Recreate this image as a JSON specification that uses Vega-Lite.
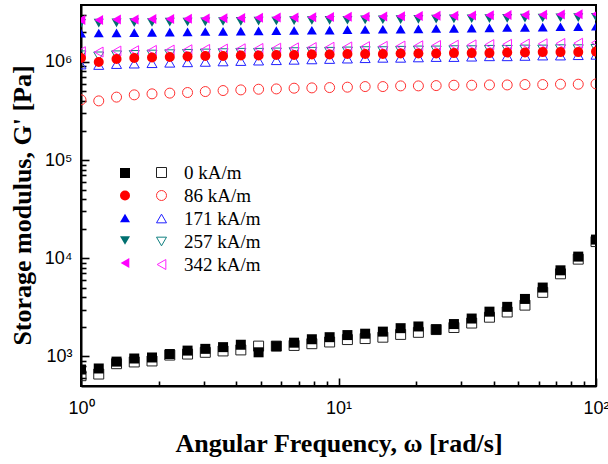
{
  "$schema": "https://vega.github.io/schema/vega-lite/v6.json",
  "width": 515,
  "height": 381,
  "autosize": {"type": "none"},
  "padding": {"left": 81, "top": 5, "right": 12, "bottom": 78},
  "background": "white",
  "config": {
    "view": {"stroke": "black", "strokeWidth": 2},
    "axis": {"grid": false}
  },
  "datasets": {
    "filled": [
      {"w": 1, "0 kA/m": 736, "86 kA/m": 1096000, "171 kA/m": 1960000, "257 kA/m": 2470000, "342 kA/m": 2670000},
      {"w": 1.172, "0 kA/m": 754, "86 kA/m": 1000000, "171 kA/m": 1970000, "257 kA/m": 2480000, "342 kA/m": 2680000},
      {"w": 1.374, "0 kA/m": 886, "86 kA/m": 1072000, "171 kA/m": 1980000, "257 kA/m": 2500000, "342 kA/m": 2700000},
      {"w": 1.61, "0 kA/m": 953, "86 kA/m": 1096000, "171 kA/m": 1990000, "257 kA/m": 2510000, "342 kA/m": 2710000},
      {"w": 1.887, "0 kA/m": 976, "86 kA/m": 1109000, "171 kA/m": 2000000, "257 kA/m": 2520000, "342 kA/m": 2730000},
      {"w": 2.212, "0 kA/m": 1058, "86 kA/m": 1122000, "171 kA/m": 2010000, "257 kA/m": 2540000, "342 kA/m": 2740000},
      {"w": 2.593, "0 kA/m": 1147, "86 kA/m": 1135000, "171 kA/m": 2020000, "257 kA/m": 2550000, "342 kA/m": 2760000},
      {"w": 3.039, "0 kA/m": 1195, "86 kA/m": 1148000, "171 kA/m": 2040000, "257 kA/m": 2560000, "342 kA/m": 2770000},
      {"w": 3.562, "0 kA/m": 1244, "86 kA/m": 1148000, "171 kA/m": 2050000, "257 kA/m": 2580000, "342 kA/m": 2790000},
      {"w": 4.175, "0 kA/m": 1316, "86 kA/m": 1161000, "171 kA/m": 2060000, "257 kA/m": 2590000, "342 kA/m": 2800000},
      {"w": 4.894, "0 kA/m": 1102, "86 kA/m": 1161000, "171 kA/m": 2070000, "257 kA/m": 2600000, "342 kA/m": 2810000},
      {"w": 5.736, "0 kA/m": 1274, "86 kA/m": 1175000, "171 kA/m": 2080000, "257 kA/m": 2610000, "342 kA/m": 2830000},
      {"w": 6.723, "0 kA/m": 1381, "86 kA/m": 1175000, "171 kA/m": 2090000, "257 kA/m": 2630000, "342 kA/m": 2840000},
      {"w": 7.88, "0 kA/m": 1497, "86 kA/m": 1189000, "171 kA/m": 2100000, "257 kA/m": 2640000, "342 kA/m": 2850000},
      {"w": 9.237, "0 kA/m": 1571, "86 kA/m": 1189000, "171 kA/m": 2110000, "257 kA/m": 2650000, "342 kA/m": 2870000},
      {"w": 10.83, "0 kA/m": 1651, "86 kA/m": 1202000, "171 kA/m": 2130000, "257 kA/m": 2660000, "342 kA/m": 2880000},
      {"w": 12.69, "0 kA/m": 1705, "86 kA/m": 1202000, "171 kA/m": 2140000, "257 kA/m": 2680000, "342 kA/m": 2890000},
      {"w": 14.87, "0 kA/m": 1790, "86 kA/m": 1202000, "171 kA/m": 2150000, "257 kA/m": 2690000, "342 kA/m": 2910000},
      {"w": 17.43, "0 kA/m": 1941, "86 kA/m": 1216000, "171 kA/m": 2160000, "257 kA/m": 2700000, "342 kA/m": 2920000},
      {"w": 20.43, "0 kA/m": 2020, "86 kA/m": 1216000, "171 kA/m": 2170000, "257 kA/m": 2710000, "342 kA/m": 2930000},
      {"w": 23.95, "0 kA/m": 1879, "86 kA/m": 1216000, "171 kA/m": 2190000, "257 kA/m": 2730000, "342 kA/m": 2950000},
      {"w": 28.07, "0 kA/m": 2138, "86 kA/m": 1230000, "171 kA/m": 2200000, "257 kA/m": 2740000, "342 kA/m": 2960000},
      {"w": 32.9, "0 kA/m": 2433, "86 kA/m": 1230000, "171 kA/m": 2210000, "257 kA/m": 2750000, "342 kA/m": 2970000},
      {"w": 38.57, "0 kA/m": 2859, "86 kA/m": 1230000, "171 kA/m": 2220000, "257 kA/m": 2760000, "342 kA/m": 2990000},
      {"w": 45.2, "0 kA/m": 3201, "86 kA/m": 1245000, "171 kA/m": 2240000, "257 kA/m": 2780000, "342 kA/m": 3000000},
      {"w": 52.98, "0 kA/m": 3853, "86 kA/m": 1245000, "171 kA/m": 2250000, "257 kA/m": 2790000, "342 kA/m": 3010000},
      {"w": 62.1, "0 kA/m": 5032, "86 kA/m": 1259000, "171 kA/m": 2260000, "257 kA/m": 2800000, "342 kA/m": 3030000},
      {"w": 72.79, "0 kA/m": 7538, "86 kA/m": 1259000, "171 kA/m": 2280000, "257 kA/m": 2820000, "342 kA/m": 3040000},
      {"w": 85.32, "0 kA/m": 10400, "86 kA/m": 1259000, "171 kA/m": 2290000, "257 kA/m": 2830000, "342 kA/m": 3060000},
      {"w": 100, "0 kA/m": 15500, "86 kA/m": 1274000, "171 kA/m": 2310000, "257 kA/m": 2850000, "342 kA/m": 3080000}
    ],
    "open": [
      {"w": 1, "0 kA/m": 637, "86 kA/m": 411000, "171 kA/m": 940000, "257 kA/m": 1170000, "342 kA/m": 1270000},
      {"w": 1.172, "0 kA/m": 662, "86 kA/m": 401000, "171 kA/m": 930000, "257 kA/m": 1140000, "342 kA/m": 1260000},
      {"w": 1.374, "0 kA/m": 844, "86 kA/m": 438000, "171 kA/m": 950000, "257 kA/m": 1170000, "342 kA/m": 1290000},
      {"w": 1.61, "0 kA/m": 879, "86 kA/m": 462000, "171 kA/m": 960000, "257 kA/m": 1180000, "342 kA/m": 1300000},
      {"w": 1.887, "0 kA/m": 900, "86 kA/m": 473000, "171 kA/m": 970000, "257 kA/m": 1190000, "342 kA/m": 1310000},
      {"w": 2.212, "0 kA/m": 1033, "86 kA/m": 481000, "171 kA/m": 980000, "257 kA/m": 1200000, "342 kA/m": 1320000},
      {"w": 2.593, "0 kA/m": 1058, "86 kA/m": 488000, "171 kA/m": 990000, "257 kA/m": 1210000, "342 kA/m": 1330000},
      {"w": 3.039, "0 kA/m": 1102, "86 kA/m": 499000, "171 kA/m": 1000000, "257 kA/m": 1220000, "342 kA/m": 1340000},
      {"w": 3.562, "0 kA/m": 1138, "86 kA/m": 511000, "171 kA/m": 1010000, "257 kA/m": 1230000, "342 kA/m": 1350000},
      {"w": 4.175, "0 kA/m": 1166, "86 kA/m": 519000, "171 kA/m": 1020000, "257 kA/m": 1240000, "342 kA/m": 1360000},
      {"w": 4.894, "0 kA/m": 1274, "86 kA/m": 527000, "171 kA/m": 1030000, "257 kA/m": 1240000, "342 kA/m": 1370000},
      {"w": 5.736, "0 kA/m": 1274, "86 kA/m": 531000, "171 kA/m": 1040000, "257 kA/m": 1250000, "342 kA/m": 1380000},
      {"w": 6.723, "0 kA/m": 1295, "86 kA/m": 540000, "171 kA/m": 1050000, "257 kA/m": 1260000, "342 kA/m": 1390000},
      {"w": 7.88, "0 kA/m": 1349, "86 kA/m": 544000, "171 kA/m": 1060000, "257 kA/m": 1270000, "342 kA/m": 1400000},
      {"w": 9.237, "0 kA/m": 1404, "86 kA/m": 548000, "171 kA/m": 1070000, "257 kA/m": 1270000, "342 kA/m": 1410000},
      {"w": 10.83, "0 kA/m": 1486, "86 kA/m": 553000, "171 kA/m": 1080000, "257 kA/m": 1280000, "342 kA/m": 1420000},
      {"w": 12.69, "0 kA/m": 1522, "86 kA/m": 561000, "171 kA/m": 1090000, "257 kA/m": 1290000, "342 kA/m": 1430000},
      {"w": 14.87, "0 kA/m": 1571, "86 kA/m": 561000, "171 kA/m": 1100000, "257 kA/m": 1290000, "342 kA/m": 1440000},
      {"w": 17.43, "0 kA/m": 1677, "86 kA/m": 570000, "171 kA/m": 1100000, "257 kA/m": 1300000, "342 kA/m": 1450000},
      {"w": 20.43, "0 kA/m": 1761, "86 kA/m": 570000, "171 kA/m": 1110000, "257 kA/m": 1310000, "342 kA/m": 1460000},
      {"w": 23.95, "0 kA/m": 1879, "86 kA/m": 574000, "171 kA/m": 1120000, "257 kA/m": 1310000, "342 kA/m": 1470000},
      {"w": 28.07, "0 kA/m": 1972, "86 kA/m": 579000, "171 kA/m": 1120000, "257 kA/m": 1320000, "342 kA/m": 1480000},
      {"w": 32.9, "0 kA/m": 2189, "86 kA/m": 579000, "171 kA/m": 1130000, "257 kA/m": 1320000, "342 kA/m": 1490000},
      {"w": 38.57, "0 kA/m": 2512, "86 kA/m": 583000, "171 kA/m": 1140000, "257 kA/m": 1330000, "342 kA/m": 1500000},
      {"w": 45.2, "0 kA/m": 2837, "86 kA/m": 583000, "171 kA/m": 1140000, "257 kA/m": 1330000, "342 kA/m": 1510000},
      {"w": 52.98, "0 kA/m": 3333, "86 kA/m": 588000, "171 kA/m": 1150000, "257 kA/m": 1340000, "342 kA/m": 1520000},
      {"w": 62.1, "0 kA/m": 4497, "86 kA/m": 588000, "171 kA/m": 1160000, "257 kA/m": 1340000, "342 kA/m": 1530000},
      {"w": 72.79, "0 kA/m": 6950, "86 kA/m": 593000, "171 kA/m": 1160000, "257 kA/m": 1350000, "342 kA/m": 1540000},
      {"w": 85.32, "0 kA/m": 9800, "86 kA/m": 593000, "171 kA/m": 1170000, "257 kA/m": 1350000, "342 kA/m": 1550000},
      {"w": 100, "0 kA/m": 14800, "86 kA/m": 597000, "171 kA/m": 1180000, "257 kA/m": 1360000, "342 kA/m": 1570000}
    ]
  },
  "encoding": {
    "x": {
      "field": "w", "type": "quantitative",
      "scale": {"type": "log", "domain": [1, 100], "nice": false},
      "axis": {
        "title": "Angular Frequency, ω [rad/s]",
        "titleFont": "Liberation Serif", "titleFontSize": 26, "titleFontWeight": "bold", "titleColor": "black",
        "titlePadding": 10,
        "values": [1,2,3,4,5,6,7,8,9,10,20,30,40,50,60,70,80,90,100],
        "labelExpr": "abs(log(datum.value)/LN10 - round(log(datum.value)/LN10)) < 0.001 ? '10' + substring('⁰¹²³⁴⁵⁶⁷⁸⁹', round(log(datum.value)/LN10), round(log(datum.value)/LN10) + 1) : ''",
        "labelFont": "Liberation Sans", "labelFontSize": 18, "labelColor": "black",
        "labelPadding": 21, "labelFlush": false, "labelOverlap": false, "labelBound": false,
        "tickSize": {"condition": {"test": "abs(log(datum.value)/LN10 - round(log(datum.value)/LN10)) < 0.001", "value": -8}, "value": -5},
        "tickWidth": 1.6, "tickColor": "black",
        "domainColor": "black", "domainWidth": 2
      }
    },
    "y": {
      "field": "G", "type": "quantitative",
      "scale": {"type": "log", "domain": [500, 3800000], "nice": false},
      "axis": {
        "title": "Storage modulus, G' [Pa]",
        "titleFont": "Liberation Serif", "titleFontSize": 26, "titleFontWeight": "bold", "titleColor": "black",
        "titlePadding": 9, "titleY": 200,
        "values": [600,700,800,900,1000,2000,3000,4000,5000,6000,7000,8000,9000,10000,20000,30000,40000,50000,60000,70000,80000,90000,100000,200000,300000,400000,500000,600000,700000,800000,900000,1000000,2000000,3000000],
        "labelExpr": "abs(log(datum.value)/LN10 - round(log(datum.value)/LN10)) < 0.001 ? '10' + substring('⁰¹²³⁴⁵⁶⁷⁸⁹', round(log(datum.value)/LN10), round(log(datum.value)/LN10) + 1) : ''",
        "labelFont": "Liberation Sans", "labelFontSize": 18, "labelColor": "black",
        "labelPadding": 17, "labelFlush": false, "labelOverlap": false, "labelBound": false,
        "tickSize": {"condition": {"test": "abs(log(datum.value)/LN10 - round(log(datum.value)/LN10)) < 0.001", "value": -8}, "value": -5},
        "tickWidth": 1.6, "tickColor": "black",
        "domainColor": "black", "domainWidth": 2
      }
    }
  },
  "layer": [
    {
      "data": {"name": "open"},
      "transform": [{"fold": ["0 kA/m", "86 kA/m", "171 kA/m", "257 kA/m", "342 kA/m"], "as": ["s", "G"]}],
      "mark": {"type": "point", "filled": false, "clip": true, "size": 100, "strokeWidth": 1, "opacity": 1},
      "encoding": {
        "color": {
          "field": "s", "type": "nominal",
          "scale": {"domain": ["0 kA/m", "86 kA/m", "171 kA/m", "257 kA/m", "342 kA/m"], "range": ["#222222", "#ff3030", "#2020ff", "#108080", "#ff20ff"]},
          "legend": {
            "title": null, "orient": "none", "legendX": 71, "legendY": 158,
            "labelFont": "Liberation Serif", "labelFontSize": 19, "labelColor": "black",
            "symbolSize": 100, "symbolStrokeWidth": 1, "labelOffset": 13, "rowPadding": 3
          }
        },
        "shape": {
          "field": "s", "type": "nominal",
          "scale": {"domain": ["0 kA/m", "86 kA/m", "171 kA/m", "257 kA/m", "342 kA/m"], "range": ["square", "circle", "triangle-up", "triangle-down", "triangle-left"]},
          "legend": null
        }
      }
    },
    {
      "data": {"name": "filled"},
      "transform": [{"fold": ["0 kA/m", "86 kA/m", "171 kA/m", "257 kA/m", "342 kA/m"], "as": ["s", "G"]}],
      "mark": {"type": "point", "filled": true, "clip": true, "size": 100, "opacity": 1},
      "encoding": {
        "color": {
          "field": "s", "type": "nominal",
          "scale": {"domain": ["0 kA/m", "86 kA/m", "171 kA/m", "257 kA/m", "342 kA/m"], "range": ["#000000", "#ff0000", "#0000ff", "#007070", "#ff00ff"]},
          "legend": {
            "title": null, "orient": "none", "legendX": 39, "legendY": 163,
            "labelExpr": "''",
            "symbolSize": 100, "symbolStrokeWidth": 0, "labelOffset": 0, "rowPadding": 12.5
          }
        },
        "shape": {
          "field": "s", "type": "nominal",
          "scale": {"domain": ["0 kA/m", "86 kA/m", "171 kA/m", "257 kA/m", "342 kA/m"], "range": ["square", "circle", "triangle-up", "triangle-down", "triangle-left"]},
          "legend": null
        }
      }
    }
  ],
  "resolve": {"scale": {"color": "independent", "shape": "independent"}}
}
